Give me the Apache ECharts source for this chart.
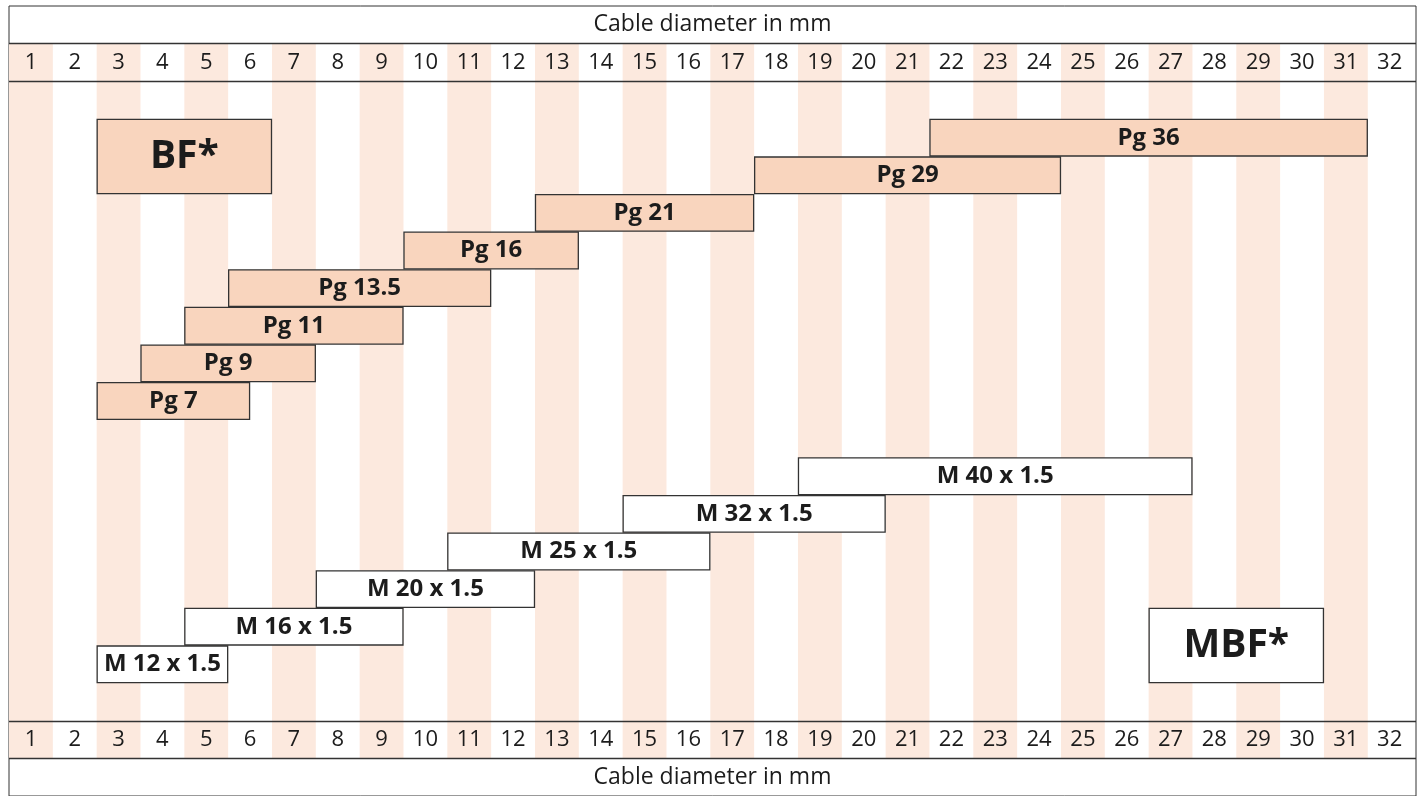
<!DOCTYPE html>
<html>
<head>
<meta charset="utf-8">
<script src="https://cdn.jsdelivr.net/npm/echarts@6/dist/echarts.min.js"></script>
<style>
html,body{margin:0;padding:0;background:#fff;}
#chart{width:1423px;height:796px;}
</style>
</head>
<body>
<div id="chart"></div>
<script>
// ---- data ----
const axisTitle = 'Cable diameter in mm';
const columnTicks = ['1','2','3','4','5','6','7','8','9','10','11','12','13','14','15','16','17','18','19','20','21','22','23','24','25','26','27','28','29','30','31','32'];
const shadedColumns = [1,3,5,7,9,11,13,15,17,19,21,23,25,27,29,31];

const pgNames = ['Pg 36','Pg 29','Pg 21','Pg 16','Pg 13.5','Pg 11','Pg 9','Pg 7'];
const pgFrom  = [21.5, 17.5, 12.5, 9.5, 5.5, 4.5, 3.5, 2.5];
const pgTo    = [31.5, 24.5, 17.5, 13.5, 11.5, 9.5, 7.5, 6.0];
const pgRow   = [1, 2, 3, 4, 5, 6, 7, 8];

const mNames = ['M 40 x 1.5','M 32 x 1.5','M 25 x 1.5','M 20 x 1.5','M 16 x 1.5','M 12 x 1.5'];
const mFrom  = [18.5, 14.5, 10.5, 7.5, 4.5, 2.5];
const mTo    = [27.5, 20.5, 16.5, 12.5, 9.5, 5.5];
const mRow   = [10, 11, 12, 13, 14, 15];

const boxNames   = ['BF*','MBF*'];
const boxFrom    = [2.5, 26.5];
const boxTo      = [6.5, 30.5];
const boxRowTop  = [1, 14];
const boxRowEnd  = [3, 16];

// ---- styles ----
const SHADE = '#fce9de';
const PG_FILL = '#f9d5be';
const LINE = '#333333';
const TXT = '#1c1c1c';
const FONT = '"Open Sans", "Noto Sans", sans-serif';

const chart = echarts.init(document.getElementById('chart'), null, {renderer:'canvas'});

function rectFrom(api, x0, x1, y0, y1){
  const a = api.coord([x0, y0]);
  const b = api.coord([x1, y1]);
  return {x: Math.min(a[0], b[0]), y: Math.min(a[1], b[1]), width: Math.abs(b[0]-a[0]), height: Math.abs(b[1]-a[1])};
}

const barData = [];
pgNames.forEach((n,i)=>barData.push({name:n, value:[pgFrom[i], pgTo[i], pgRow[i], pgRow[i]+1], kind:'pg'}));
mNames.forEach((n,i)=>barData.push({name:n, value:[mFrom[i], mTo[i], mRow[i], mRow[i]+1], kind:'m'}));
boxNames.forEach((n,i)=>barData.push({name:n, value:[boxFrom[i], boxTo[i], boxRowTop[i], boxRowEnd[i]], kind: i===0 ? 'bf' : 'mbf'}));

const option = {
  animation: false,
  backgroundColor: '#fff',
  grid: {left: 9, right: 7, top: 6, height: 792, show: true, borderColor: LINE, borderWidth: 1, backgroundColor: 'transparent'},
  xAxis: {type:'value', min:0.5, max:32.6, show:false},
  yAxis: {type:'value', min:-2, max:19, inverse:true, show:false},
  series: [
    {
      type:'custom', name:'stripes', silent:true, z:1,
      data: shadedColumns.map(c=>[c]),
      renderItem: (params, api) => {
        const c = api.value(0);
        return {type:'rect', shape: rectFrom(api, c-0.5, c+0.5, -1, 18), style:{fill: SHADE}};
      },
      markLine: {
        silent:true, symbol:'none', label:{show:false},
        lineStyle:{color: LINE, width:1.3, type:'solid'},
        data: [{yAxis:-1},{yAxis:0},{yAxis:17},{yAxis:18}]
      }
    },
    {
      type:'custom', name:'ticks', silent:true, z:3,
      data: columnTicks.map((t,i)=>[i+1]),
      renderItem: (params, api) => {
        const c = api.value(0);
        const top = api.coord([c, -0.5]);
        const bot = api.coord([c, 17.5]);
        const t = columnTicks[params.dataIndex];
        const st = {text:t, fill:TXT, font:'22px ' + FONT, textAlign:'center', textVerticalAlign:'middle'};
        return {type:'group', children:[
          {type:'text', x: top[0], y: top[1], style: st},
          {type:'text', x: bot[0], y: bot[1], style: Object.assign({}, st)}
        ]};
      }
    },
    {
      type:'custom', name:'titles', silent:true, z:3,
      data: [[16.55, -1.5],[16.55, 18.5]],
      renderItem: (params, api) => {
        const p = api.coord([api.value(0), api.value(1)]);
        return {type:'text', x:p[0], y:p[1], style:{text: axisTitle, fill:TXT, font:'23px ' + FONT, textAlign:'center', textVerticalAlign:'middle'}};
      }
    },
    {
      type:'custom', name:'glands', z:5,
      data: barData,
      renderItem: (params, api) => {
        const item = barData[params.dataIndex];
        const r = rectFrom(api, api.value(0), api.value(1), api.value(2), api.value(3));
        const big = item.kind === 'bf' || item.kind === 'mbf';
        const fill = (item.kind === 'pg' || item.kind === 'bf') ? PG_FILL : '#ffffff';
        return {type:'group', children:[
          {type:'rect', shape:{x:r.x+0.5, y:r.y+0.5, width:r.width-1, height:r.height-1}, style:{fill: fill, stroke: LINE, lineWidth:1.3}},
          {type:'text', x: r.x + r.width/2, y: r.y + r.height/2, style:{text: item.name, fill: TXT, font: 'bold ' + (big ? '39px ' : '24px ') + FONT, textAlign:'center', textVerticalAlign:'middle'}}
        ]};
      }
    }
  ]
};
chart.setOption(option);
</script>
</body>
</html>
